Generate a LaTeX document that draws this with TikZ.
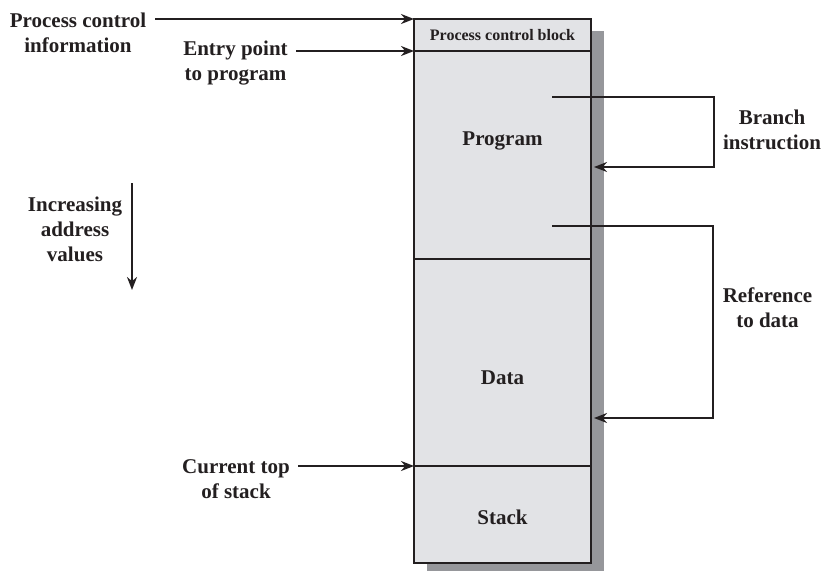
\documentclass[tikz,border=0pt]{standalone}
\usepackage{fontspec}
\setmainfont{Liberation Serif}
\definecolor{blockgray}{RGB}{226,227,230}
\definecolor{shadowgray}{RGB}{150,151,155}
\definecolor{inkgray}{RGB}{35,31,32}
\usetikzlibrary{arrows.meta,positioning}

\begin{document}
\begin{tikzpicture}[x=1pt, y=-1pt,
  every node/.style={font=\fontsize{21}{25}\selectfont\bfseries, text=inkgray, align=center},
  part/.style={draw=inkgray, line width=1.5pt, fill=blockgray, minimum width=177pt, anchor=north west, inner sep=0pt, outer sep=0pt},
  arr/.style={draw=inkgray, line width=2.5pt, -{Stealth[length=13pt, width=10pt]}},
  loop/.style={draw=inkgray, line width=2.4pt, -{Stealth[length=13pt, width=10pt]}}]
\useasboundingbox (0,0) rectangle (825,571);

% shadow behind the memory image
\fill[shadowgray] (427,31) rectangle (604,571);

% memory image
\node[part, minimum height=32pt, font=\fontsize{16}{18}\selectfont\bfseries] (pcb) at (414,19) {Process control block};
\node[part, minimum height=208pt] (prog) at (pcb.south west) {};
\node[part, minimum height=207pt] (data) at (prog.south west) {};
\node[part, minimum height=97pt] (stack) at (data.south west) {};
\node (progtxt) at (502.5,141) {Program};
\node (datatxt) at (502.5,378) {Data};
\node (stacktxt) at (502.5,517) {Stack};

% left side labels
\node (pci) at (78,32.5) {Process control\\information};
\node (entry) at (235.5,63.5) {Entry point\\to program};
\node (top) at (236,479.5) {Current top\\of stack};
\node (incr) at (75,229) {Increasing\\address\\values};
\coordinate (pcifrom) at (155,19);
\coordinate (entryfrom) at (296,51);
\coordinate (topfrom) at (298,466);
\coordinate (incrfrom) at (132,183);
\coordinate (incrto) at (132,290);
\draw[arr] (pcifrom) -- (pcb.north west);
\draw[arr] (entryfrom) -- (pcb.south west);
\draw[arr] (topfrom) -- (stack.north west);
\draw[arr] (incrfrom) -- (incrto);

% right side references
\node (branch) at (772,129.5) {Branch\\instruction};
\node (ref) at (767.5,307.5) {Reference\\to data};
\coordinate (brfrom) at (552,97);
\coordinate (brturn) at (714,167);
\coordinate (brto) at (594,167);
\coordinate (reffrom) at (552,226);
\coordinate (refturn) at (713,418);
\coordinate (refto) at (594,418);
\draw[loop] (brfrom) -| (brturn) -- (brto);
\draw[loop] (reffrom) -| (refturn) -- (refto);
\end{tikzpicture}
\end{document}
